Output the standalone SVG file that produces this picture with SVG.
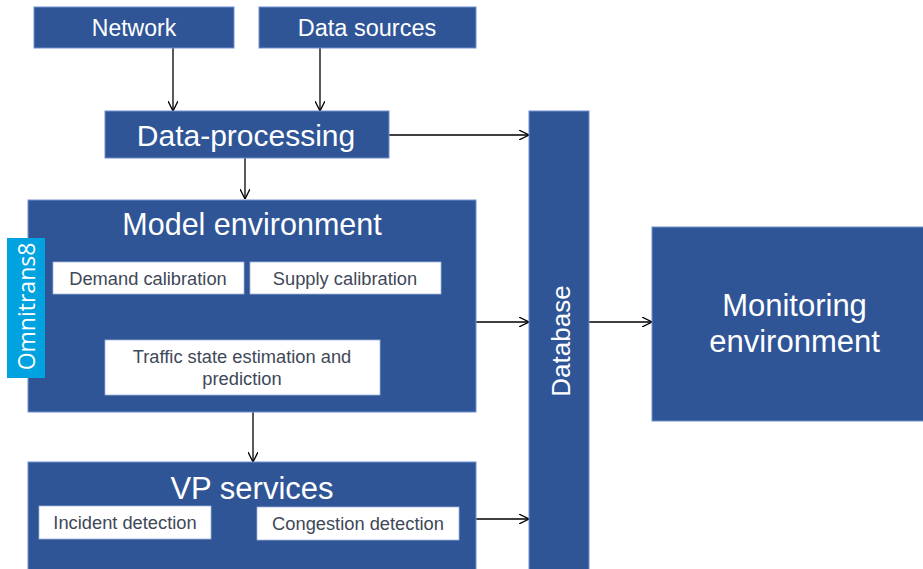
<svg xmlns="http://www.w3.org/2000/svg" width="923" height="569" viewBox="0 0 923 569">
<defs>
<style>
.blue{fill:#2f5597;stroke:#6f8fcf;stroke-width:1}
.white{fill:#ffffff;stroke:#9fb3d9;stroke-width:0.8}
.t{font-family:"Liberation Sans",Arial,sans-serif;fill:#ffffff;text-anchor:middle}
.s{font-family:"Liberation Sans",Arial,sans-serif;fill:#404858;text-anchor:middle;font-size:18.3px}
.c{stroke:#000;stroke-width:1.3;fill:none;marker-end:url(#ah)}
</style>
<marker id="ah" viewBox="0 0 10 10" refX="10" refY="5" markerWidth="10" markerHeight="10" markerUnits="userSpaceOnUse" orient="auto">
<path d="M0,0 L10,5 L0,10" fill="none" stroke="#000" stroke-width="1.3"/>
</marker>
</defs>
<rect width="923" height="569" fill="#ffffff"/>
<g id="connectors">
<line class="c" x1="173" y1="48" x2="173" y2="111"/>
<line class="c" x1="320" y1="48" x2="320" y2="111"/>
<line class="c" x1="245" y1="158" x2="245" y2="199"/>
<line class="c" x1="389" y1="135" x2="529" y2="135"/>
<line class="c" x1="177" y1="294" x2="177" y2="340"/>
<line class="c" x1="302" y1="294" x2="302" y2="340"/>
<line class="c" x1="253" y1="412" x2="253" y2="462"/>
<line class="c" x1="476" y1="322" x2="529" y2="322"/>
<line class="c" x1="476" y1="519" x2="529" y2="519"/>
<line class="c" x1="589" y1="322" x2="652" y2="322"/>
</g>
<g id="network">
<rect class="blue" x="34" y="7" width="200" height="41"/>
<text class="t" x="134" y="36" font-size="23">Network</text>
</g>
<g id="data-sources">
<rect class="blue" x="259" y="7" width="217" height="41"/>
<text class="t" x="367" y="36" font-size="23.5">Data sources</text>
</g>
<g id="data-processing">
<rect class="blue" x="105" y="111" width="284" height="47"/>
<text class="t" x="246" y="146" font-size="30">Data-processing</text>
</g>
<g id="model-environment">
<rect class="blue" x="28" y="200" width="448" height="212"/>
<text class="t" x="252" y="235" font-size="30.5">Model environment</text>
</g>
<g id="omnitrans8">
<rect x="7" y="238" width="38" height="140" fill="#00a3e0"/>
<text x="0" y="0" transform="translate(35,306.5) rotate(-90)" font-family="'Open Sans','Noto Sans',sans-serif" font-size="23" fill="#ffffff" text-anchor="middle">Omnitrans8</text>
</g>
<g id="demand-calibration">
<rect class="white" x="53" y="262" width="191" height="32"/>
<text class="s" x="148" y="285">Demand calibration</text>
</g>
<g id="supply-calibration">
<rect class="white" x="250" y="262" width="191" height="32"/>
<text class="s" x="345" y="285">Supply calibration</text>
</g>
<g id="traffic-state">
<rect class="white" x="105" y="340" width="275" height="55"/>
<text class="s" x="242" y="363">Traffic state estimation and</text>
<text class="s" x="242" y="385">prediction</text>
</g>
<g id="vp-services">
<rect class="blue" x="28" y="462" width="448" height="110"/>
<text class="t" x="252" y="499" font-size="31">VP services</text>
</g>
<g id="incident-detection">
<rect class="white" x="39" y="506" width="172" height="33"/>
<text class="s" x="125" y="529">Incident detection</text>
</g>
<g id="congestion-detection">
<rect class="white" x="257" y="507" width="202" height="33"/>
<text class="s" x="358" y="530">Congestion detection</text>
</g>
<g id="database">
<rect class="blue" x="529" y="111" width="60" height="462"/>
<text class="t" transform="translate(570,341) rotate(-90)" x="0" y="0" font-family="'Open Sans','Noto Sans',sans-serif" font-size="26">Database</text>
</g>
<g id="monitoring-environment">
<rect class="blue" x="652" y="227" width="275" height="194"/>
<text class="t" x="794.5" y="316" font-size="31">Monitoring</text>
<text class="t" x="794.5" y="352" font-size="31">environment</text>
</g>
</svg>
